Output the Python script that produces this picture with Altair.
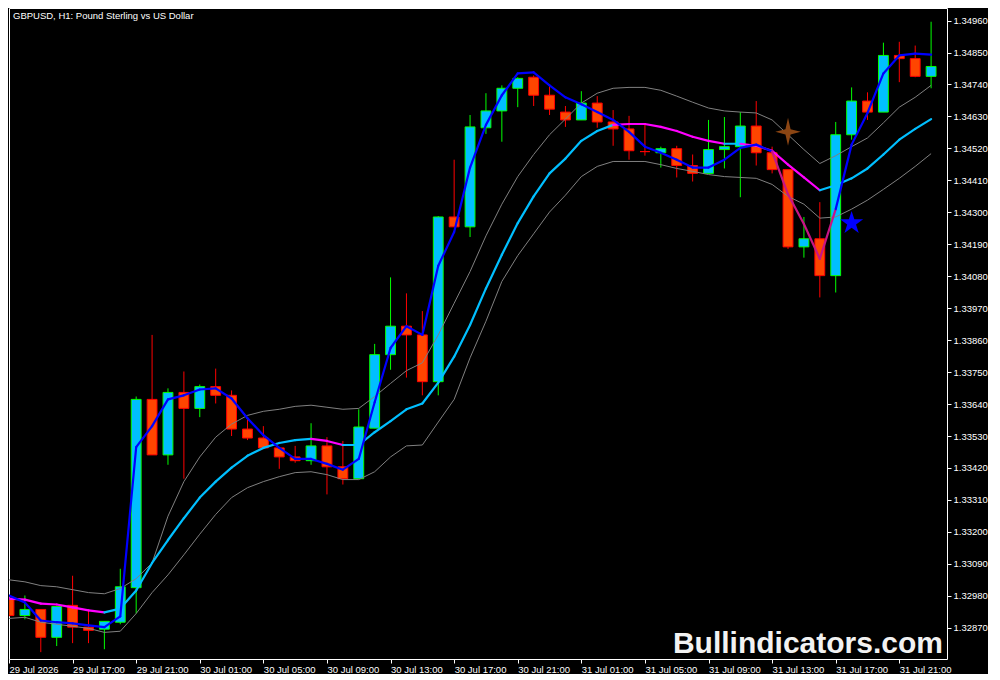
import altair as alt
import pandas as pd

# ---- data (hourly bars, index 0 = 29 Jul 13:00) ----
opens = [1.32970, 1.32912, 1.32933, 1.32837, 1.32947, 1.32872, 1.32865, 1.32889, 1.33008, 1.33656,
         1.33465, 1.33680, 1.33625, 1.33700, 1.33670, 1.33554, 1.33523, 1.33489, 1.33458, 1.33445,
         1.33496, 1.33424, 1.33383, 1.33557, 1.33810, 1.33908, 1.33878, 1.33717, 1.34284, 1.34250,
         1.34591, 1.34649, 1.34727, 1.34765, 1.34703, 1.34645, 1.34618, 1.34676, 1.34611, 1.34587,
         1.34509, 1.34505, 1.34519, 1.34461, 1.34434, 1.34516, 1.34526, 1.34597, 1.34505, 1.34447,
         1.34181, 1.34209, 1.34082, 1.34567, 1.34683, 1.34645, 1.34840, 1.34829, 1.34768]
highs = [1.32977, 1.32981, 1.32933, 1.32943, 1.33049, 1.32930, 1.32892, 1.33073, 1.33666, 1.33878,
         1.33694, 1.33752, 1.33707, 1.33762, 1.33687, 1.33588, 1.33564, 1.33489, 1.33496, 1.33574,
         1.33526, 1.33513, 1.33622, 1.33847, 1.34076, 1.34021, 1.33960, 1.34287, 1.34481, 1.34635,
         1.34710, 1.34737, 1.34765, 1.34771, 1.34734, 1.34666, 1.34717, 1.34700, 1.34652, 1.34632,
         1.34601, 1.34526, 1.34529, 1.34499, 1.34618, 1.34628, 1.34645, 1.34683, 1.34526, 1.34447,
         1.34284, 1.34335, 1.34611, 1.34730, 1.34713, 1.34884, 1.34887, 1.34874, 1.34956]
lows = [1.32909, 1.32899, 1.32786, 1.32807, 1.32817, 1.32817, 1.32796, 1.32882, 1.32919, 1.33465,
        1.33431, 1.33383, 1.33595, 1.33642, 1.33530, 1.33516, 1.33485, 1.33417, 1.33438, 1.33431,
        1.33329, 1.33363, 1.33383, 1.33557, 1.33758, 1.33731, 1.33670, 1.33670, 1.34250, 1.34215,
        1.34570, 1.34543, 1.34662, 1.34666, 1.34635, 1.34594, 1.34618, 1.34591, 1.34529, 1.34481,
        1.34495, 1.34454, 1.34420, 1.34406, 1.34434, 1.34451, 1.34352, 1.34461, 1.34434, 1.34174,
        1.34144, 1.34007, 1.34024, 1.34550, 1.34618, 1.34645, 1.34748, 1.34765, 1.34727]
closes = [1.32912, 1.32933, 1.32837, 1.32943, 1.32872, 1.32861, 1.32892, 1.33011, 1.33656, 1.33465,
          1.33680, 1.33625, 1.33700, 1.33670, 1.33554, 1.33523, 1.33489, 1.33458, 1.33445, 1.33496,
          1.33424, 1.33383, 1.33561, 1.33810, 1.33908, 1.33878, 1.33717, 1.34284, 1.34250, 1.34594,
          1.34649, 1.34727, 1.34761, 1.34703, 1.34655, 1.34618, 1.34676, 1.34611, 1.34587, 1.34512,
          1.34509, 1.34519, 1.34461, 1.34434, 1.34516, 1.34526, 1.34597, 1.34505, 1.34447, 1.34181,
          1.34209, 1.34082, 1.34567, 1.34683, 1.34645, 1.34840, 1.34829, 1.34768, 1.34802]

upper_band = [1.33035, 1.33028, 1.33015, 1.33011, 1.33001, 1.32991, 1.32987, 1.33005, 1.33039, 1.33093,
              1.33254, 1.33373, 1.33458, 1.33526, 1.33571, 1.33601, 1.33615, 1.33622, 1.33632, 1.33636,
              1.33629, 1.33622, 1.33625, 1.33666, 1.33711, 1.33755, 1.33782, 1.33878, 1.33987, 1.34096,
              1.34219, 1.34328, 1.34423, 1.34499, 1.34567, 1.34621, 1.34676, 1.34710, 1.34727, 1.34730,
              1.34730, 1.34720, 1.34700, 1.34679, 1.34659, 1.34649, 1.34645, 1.34642, 1.34618, 1.34567,
              1.34516, 1.34468, 1.34495, 1.34526, 1.34556, 1.34608, 1.34662, 1.34696, 1.34737]
lower_band = [1.32902, 1.32906, 1.32889, 1.32882, 1.32875, 1.32868, 1.32854, 1.32858, 1.32919, 1.32991,
              1.33052, 1.33121, 1.33192, 1.33260, 1.33318, 1.33352, 1.33373, 1.33390, 1.33404, 1.33407,
              1.33397, 1.33380, 1.33380, 1.33407, 1.33458, 1.33496, 1.33499, 1.33578, 1.33656, 1.33799,
              1.33925, 1.34062, 1.34151, 1.34226, 1.34301, 1.34359, 1.34423, 1.34458, 1.34475, 1.34475,
              1.34475, 1.34464, 1.34451, 1.34441, 1.34430, 1.34423, 1.34420, 1.34417, 1.34396, 1.34355,
              1.34328, 1.34280, 1.34284, 1.34311, 1.34342, 1.34379, 1.34417, 1.34458, 1.34502]
slow_ma = [1.32970, 1.32967, 1.32953, 1.32950, 1.32940, 1.32930, 1.32923, 1.32936, 1.32998, 1.33093,
           1.33172, 1.33247, 1.33318, 1.33373, 1.33421, 1.33462, 1.33489, 1.33506, 1.33516, 1.33520,
           1.33513, 1.33499, 1.33499, 1.33543, 1.33581, 1.33622, 1.33642, 1.33714, 1.33803, 1.33912,
           1.34038, 1.34154, 1.34263, 1.34355, 1.34434, 1.34485, 1.34546, 1.34580, 1.34601, 1.34604,
           1.34604, 1.34594, 1.34580, 1.34560, 1.34546, 1.34536, 1.34536, 1.34529, 1.34512, 1.34464,
           1.34420, 1.34376, 1.34393, 1.34417, 1.34451, 1.34499, 1.34550, 1.34587, 1.34621]
fast_ma = [1.32981, 1.32957, 1.32895, 1.32889, 1.32885, 1.32878, 1.32872, 1.32909, 1.33492, 1.33564,
           1.33656, 1.33670, 1.33690, 1.33694, 1.33659, 1.33591, 1.33533, 1.33489, 1.33451, 1.33451,
           1.33434, 1.33414, 1.33451, 1.33646, 1.33833, 1.33908, 1.33878, 1.34116, 1.34232, 1.34454,
           1.34601, 1.34703, 1.34778, 1.34782, 1.34737, 1.34696, 1.34672, 1.34645, 1.34618, 1.34577,
           1.34526, 1.34505, 1.34481, 1.34454, 1.34454, 1.34481, 1.34522, 1.34533, 1.34509, 1.34362,
           1.34260, 1.34140, 1.34311, 1.34533, 1.34642, 1.34778, 1.34840, 1.34846, 1.34843]

# segments (start index) where the slow line is drawn magenta / the fast line violet
slow_down_segments = [0, 1, 2, 3, 4, 5, 19, 20, 38, 39, 40, 41, 42, 43, 44, 46, 47, 48, 49, 50]
fast_alt_segments = [48, 49, 50, 51]

sell_signal = {"i": [49], "price": [1.34577]}
buy_signal = {"i": [53], "price": [1.34263]}

x_labels = ["29 Jul 2026", "29 Jul 17:00", "29 Jul 21:00", "30 Jul 01:00", "30 Jul 05:00",
            "30 Jul 09:00", "30 Jul 13:00", "30 Jul 17:00", "30 Jul 21:00", "31 Jul 01:00",
            "31 Jul 05:00", "31 Jul 09:00", "31 Jul 13:00", "31 Jul 17:00", "31 Jul 21:00"]
y_ticks = [1.32870, 1.32980, 1.33090, 1.33200, 1.33310, 1.33420, 1.33530, 1.33640, 1.33750,
           1.33860, 1.33970, 1.34080, 1.34190, 1.34300, 1.34410, 1.34520, 1.34630, 1.34740,
           1.34850, 1.34960]

title_text = "GBPUSD, H1:  Pound Sterling vs US Dollar"
watermark = "Bullindicators.com"

# ---- tables ----
n = len(opens)
bars = pd.DataFrame({"i": list(range(n)), "open": opens, "high": highs, "low": lows, "close": closes,
                     "upper": upper_band, "lower": lower_band})
bull = bars["close"] > bars["open"]
bars["body"] = ["#00BFFF" if b else "#FF4500" for b in bull]
bars["edge"] = ["#00FF00" if b else "#FF0000" for b in bull]
bars["x0"] = bars["i"] - 0.31
bars["x1"] = bars["i"] + 0.31

def segments(vals, alt_idx, base_col, alt_col):
    rows = []
    for k in range(len(vals) - 1):
        rows.append({"i0": k, "i1": k + 1, "v0": vals[k], "v1": vals[k + 1],
                     "c": alt_col if k in alt_idx else base_col})
    return pd.DataFrame(rows)

slow_seg = segments(slow_ma, slow_down_segments, "#00BFFF", "#FF00FF")
fast_seg = segments(fast_ma, fast_alt_segments, "#0000FF", "#C71585")

FONT = "Liberation Sans"
xs = alt.Scale(domain=[0, 59], nice=False, zero=False)
ys = alt.Scale(domain=[1.327624, 1.350033], nice=False, zero=False)

label_expr = "[" + ",".join("'" + s + "'" for s in x_labels) + "][round(datum.value / 4)]"
x_axis = alt.Axis(values=list(range(0, 4 * len(x_labels), 4)), labelExpr=label_expr, title=None,
                  grid=False, domain=False, ticks=True, tickColor="#FFFFFF", tickSize=4,
                  labelAlign="left", labelBaseline="top", labelPadding=1, labelColor="#FFFFFF",
                  labelFont=FONT, labelFontSize=9.5, labelOverlap=False, labelFlush=False)
y_axis = alt.Axis(orient="right", values=y_ticks, format=".5f", title=None, grid=False,
                  domain=False, tickColor="#FFFFFF", tickSize=4, labelPadding=2,
                  labelColor="#FFFFFF", labelFont=FONT, labelFontSize=9.5,
                  labelOverlap=False, labelFlush=False)

base = alt.Chart(bars)

wicks = base.mark_rule(strokeWidth=1, clip=True).encode(
    x=alt.X("i:Q", scale=xs, axis=x_axis),
    y=alt.Y("high:Q", scale=ys, axis=y_axis),
    y2="low:Q",
    color=alt.Color("edge:N", scale=None),
)
bodies = base.mark_rect(strokeWidth=1, clip=True).encode(
    x=alt.X("x0:Q", scale=xs, axis=x_axis),
    x2="x1:Q",
    y=alt.Y("open:Q", scale=ys, axis=y_axis),
    y2="close:Q",
    fill=alt.Fill("body:N", scale=None),
    stroke=alt.Stroke("edge:N", scale=None),
)
up_line = base.mark_line(color="#808080", strokeWidth=1, clip=True).encode(
    x=alt.X("i:Q", scale=xs, axis=x_axis), y=alt.Y("upper:Q", scale=ys, axis=y_axis))
lo_line = base.mark_line(color="#808080", strokeWidth=1, clip=True).encode(
    x=alt.X("i:Q", scale=xs, axis=x_axis), y=alt.Y("lower:Q", scale=ys, axis=y_axis))

def seg_layer(df):
    return alt.Chart(df).mark_rule(strokeWidth=2.2, strokeCap="round", clip=True).encode(
        x=alt.X("i0:Q", scale=xs, axis=x_axis), x2="i1:Q",
        y=alt.Y("v0:Q", scale=ys, axis=y_axis), y2="v1:Q",
        color=alt.Color("c:N", scale=None))

star4 = "M0,-1.1L0.2,-0.2L1,0L0.2,0.2L0,1.1L-0.2,0.2L-1,0L-0.2,-0.2Z"
star5 = ("M0,-1L0.2245,-0.309L0.9511,-0.309L0.3633,0.118L0.5878,0.809L0,0.382"
         "L-0.5878,0.809L-0.3633,0.118L-0.9511,-0.309L-0.2245,-0.309Z")

sell = alt.Chart(pd.DataFrame(sell_signal)).mark_point(
    shape=star4, filled=True, size=650, color="#8B4513", opacity=1, strokeWidth=0).encode(
    x=alt.X("i:Q", scale=xs, axis=x_axis), y=alt.Y("price:Q", scale=ys, axis=y_axis))
buy = alt.Chart(pd.DataFrame(buy_signal)).mark_point(
    shape=star5, filled=True, size=590, color="#0000FF", opacity=1, strokeWidth=0).encode(
    x=alt.X("i:Q", scale=xs, axis=x_axis), y=alt.Y("price:Q", scale=ys, axis=y_axis))

title_layer = alt.Chart(pd.DataFrame({"t": [title_text]})).mark_text(
    align="left", baseline="alphabetic", font=FONT, fontSize=9.5, color="#FFFFFF").encode(
    text="t:N", x=alt.value(4), y=alt.value(11))
wm_layer = alt.Chart(pd.DataFrame({"t": [watermark]})).mark_text(
    align="right", baseline="alphabetic", font=FONT, fontSize=30, fontWeight="bold",
    color="#F2F2F2").encode(text="t:N", x=alt.value(934), y=alt.value(645))

chart = alt.layer(
    wicks, bodies, up_line, lo_line, seg_layer(slow_seg), seg_layer(fast_seg),
    sell, buy, title_layer, wm_layer,
).properties(
    width=938, height=651, background="#000000", padding=0,
).configure_view(stroke="#FFFFFF", strokeWidth=1)

chart.save("out.html", embed_options={"renderer": "svg", "actions": False})
